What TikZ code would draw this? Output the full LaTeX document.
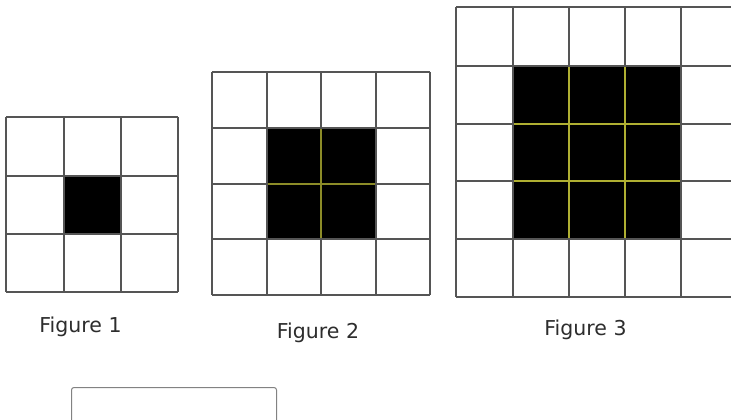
\documentclass[tikz,border=0pt]{standalone}
\usepackage{fontspec}
\setmainfont{DejaVu Sans}
\definecolor{gridgray}{RGB}{85,85,85}
\definecolor{inneryellow}{RGB}{140,140,40}
\definecolor{inneryellowb}{RGB}{175,175,50}
\definecolor{txtgray}{RGB}{45,45,45}
\definecolor{boxgray}{RGB}{130,130,130}
\begin{document}
\begin{tikzpicture}[x=1pt,y=-1pt,
  gridline/.style={draw=gridgray,line width=1.3pt},
  innerline/.style={draw=inneryellow,line width=1.1pt},
  innerlineb/.style={draw=inneryellowb,line width=1.1pt},
  lbl/.style={anchor=base,text=txtgray,inner sep=0pt,font=\fontsize{20.5}{24}\selectfont},
  answerbox/.style={draw=boxgray,line width=1pt,rounded corners=2.5pt,anchor=north west,minimum width=205pt,minimum height=60pt,inner sep=0pt}]
\useasboundingbox (0,0) rectangle (731,420);
\clip (0,0) rectangle (731,420);
\fill[white] (0,0) rectangle (731,420);
% Figure 1
\foreach \x in {6,64,121,178} \draw[gridline] (\x,117) -- (\x,292);
\foreach \y in {117,176,234,292} \draw[gridline] (6,\y) -- (178,\y);
\fill[black] (64,176) rectangle (121,234);
\draw[gridline] (64,176) rectangle (121,234);
% Figure 2
\foreach \x in {212,267,321,376,430} \draw[gridline] (\x,72) -- (\x,295);
\foreach \y in {72,128,184,239,295} \draw[gridline] (212,\y) -- (430,\y);
\fill[black] (267,128) rectangle (376,239);
\draw[innerline] (321,128) -- (321,239);
\draw[innerline] (267,184) -- (376,184);
\draw[gridline] (267,128) rectangle (376,239);
% Figure 3
\foreach \x in {456,513,569,625,681,738} \draw[gridline] (\x,7) -- (\x,297);
\foreach \y in {7,66,124,181,239,297} \draw[gridline] (456,\y) -- (740,\y);
\fill[black] (513,66) rectangle (681,239);
\foreach \x in {569,625} \draw[innerlineb] (\x,66) -- (\x,239);
\foreach \y in {124,181} \draw[innerlineb] (513,\y) -- (681,\y);
\draw[gridline] (513,66) rectangle (681,239);
% Labels
\node[lbl] (f1) at (80.5,332) {Figure 1};
\node[lbl] (f2) at (318,338) {Figure 2};
\node[lbl] (f3) at (585.5,335) {Figure 3};
% Answer box
\node[answerbox] (answer) at (71,387) {};
\end{tikzpicture}
\end{document}
